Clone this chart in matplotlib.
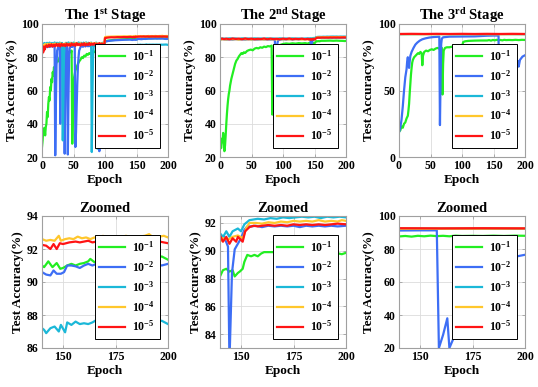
import matplotlib
matplotlib.use('Agg')
import matplotlib.pyplot as plt

plt.rcParams['font.family'] = 'Liberation Serif'
plt.rcParams['font.weight'] = 'bold'
plt.rcParams['mathtext.fontset'] = 'custom'
plt.rcParams['mathtext.rm'] = 'Liberation Serif:bold'
plt.rcParams['mathtext.bf'] = 'Liberation Serif:bold'
plt.rcParams['mathtext.it'] = 'Liberation Serif:bold:italic'
plt.rcParams['mathtext.default'] = 'rm'

# learning rates (legend)
labels = [r'10$^{-1}$', r'10$^{-2}$', r'10$^{-3}$', r'10$^{-4}$', r'10$^{-5}$']
colors = ['#22ee22', '#3d6ef5', '#1bb8d8', '#ffc72c', '#ff1414']

# ---- stage 1: (epoch, test accuracy) ----
s1_g = [(0, 26), (1, 30), (2, 37), (3, 34), (4, 37.5), (5, 33), (6, 38), (7, 40), (8, 47), (9, 44),
        (10, 52), (11, 56), (12, 54), (13, 62), (14, 60), (15, 67), (16, 65), (17, 71), (18, 69),
        (19, 74), (20, 72), (22, 76), (24, 78), (26, 77.5), (28, 80), (30, 79.5), (32, 81), (34, 80.5),
        (36, 82), (38, 81.5), (40, 83), (42, 82.5), (44, 83.5), (46, 83), (47, 84), (48, 28), (49, 45),
        (50, 60), (51, 68), (53, 72), (55, 74), (57, 76), (59, 77.5), (61, 78.5), (63, 80), (65, 79.5),
        (67, 81), (69, 80.5), (71, 82), (73, 81.5), (75, 82.5), (77, 82), (79, 83), (81, 82.6), (83, 83.5),
        (85, 83), (87, 84), (89, 83.6), (91, 84.3), (93, 84), (95, 84.5), (97, 84.2), (99, 84.6),
        (100, 89.6), (103, 89.9), (107, 90.1), (111, 90.3), (115, 90.4), (120, 90.6), (125, 90.7),
        (130, 90.8), (135, 90.9),
        (140, 91.0), (141, 90.9), (143, 91.25), (145, 90.9), (147, 91.15), (148.7, 90.8), (150, 90.85),
        (152, 91.0), (154, 91.1), (156, 91.0), (158, 91.1), (160, 91.15), (162, 91.25), (163, 91.4),
        (165, 91.2), (167, 91.3), (169, 91.45), (171, 91.4), (174, 91.45), (177, 91.4), (180, 91.5),
        (183, 91.4), (186, 91.5), (189, 91.45), (192, 91.5), (195, 91.45), (197, 91.55), (200, 91.35)]
s1_b = [(0, 84), (2, 86), (4, 85.5), (6, 86.5), (8, 86), (10, 86.8), (12, 86.2), (14, 87), (16, 86.4),
        (18, 86.9), (20, 86.5), (21, 21), (22, 50), (23, 75), (24, 84), (26, 86.5), (28, 86), (29, 40),
        (30, 80), (31, 86), (33, 86.8), (35, 86.3), (36, 22), (37, 60), (38, 84), (39, 86.5), (40, 86),
        (41, 21.5), (42, 55), (43, 80), (44, 85.5), (46, 86.8), (48, 86.2), (50, 86.9), (52, 86.5),
        (53, 26), (54, 35), (55, 50), (56, 64), (57, 74), (58, 80), (59, 84), (61, 86), (63, 86.8),
        (65, 86.3), (67, 87), (69, 86.5), (71, 87.1), (73, 86.6), (75, 87), (77, 86.5), (79, 87.2),
        (81, 86.7), (83, 87), (85, 86.6), (87, 87.2), (89, 86.8), (91, 23.5), (92, 45), (93, 70),
        (94, 82), (95, 86), (97, 87), (99, 86.8), (100, 89.3), (105, 89.8), (110, 90), (115, 90.2),
        (120, 90.3), (125, 90.4), (130, 90.5), (135, 90.55),
        (140, 90.6), (142, 90.45), (144, 90.4), (145.5, 90.7), (147, 90.5), (149, 90.5), (150.5, 90.6),
        (152, 91.0), (154, 91.0), (156, 90.95), (158, 90.85), (160, 91.0), (162, 91.1), (164, 91.0),
        (166, 91.1), (168, 91.15), (170, 91.2), (173, 91.15), (176, 91.2), (179, 91.25), (182, 91.2),
        (185, 91.25), (188, 91.2), (191, 91.25), (194, 91.1), (197, 91.0), (200, 91.1)]
s1_c = [(0, 86.5), (2, 88), (4, 88.6), (6, 87.8), (8, 88.7), (10, 88.1), (12, 88.8), (14, 88.2), (16, 88.6),
        (18, 88.0), (20, 88.9), (22, 88.3), (24, 88.7), (26, 88.1), (28, 88.8), (30, 88.4), (32, 88.6),
        (33, 30), (34, 60), (35, 82), (36, 87.5), (38, 88.7), (40, 88.2), (42, 88.9), (44, 88.3), (46, 88.7),
        (48, 88.1), (50, 88.8), (52, 88.4), (54, 88.6), (56, 88.2), (58, 88.9), (60, 88.4), (62, 88.7),
        (64, 88.1), (66, 88.8), (68, 88.3), (70, 88.9), (72, 88.4), (74, 88.7), (76, 88.2), (78, 88.8),
        (79, 23), (80, 55), (81, 80), (82, 86.5), (84, 88.3), (86, 88.8), (87, 88.4), (88, 25), (89, 35),
        (90, 55), (91, 72), (92, 82), (93, 86.5), (94, 88.1), (96, 88.7), (98, 88.3), (99, 88.6),
        (100, 86.3), (105, 86.6), (110, 86.8), (115, 87), (120, 87.1), (125, 87.15), (130, 87.2),
        (135, 87.25),
        (140, 87.2), (141, 87.1), (142, 86.9), (144, 87.2), (146, 87.3), (148, 87.0), (149, 87.4),
        (151, 86.95), (152, 87.55), (154, 87.4), (156, 87.6), (158, 87.45), (160, 87.5), (162, 87.45),
        (164, 87.55), (166, 87.7), (168, 87.5), (170, 87.6), (173, 87.55), (176, 87.6), (179, 87.55),
        (182, 87.6), (185, 87.55), (188, 87.6), (191, 87.55), (194, 87.6), (197, 87.65), (200, 87.45)]
s1_y = [(0, 86.5), (1, 87.5), (3, 87.0), (5, 88.0), (7, 87.3), (9, 88.1), (11, 87.4), (13, 88.2),
        (15, 87.5), (17, 88.0), (19, 87.3), (21, 88.3), (23, 87.6), (25, 88.1), (27, 87.4), (29, 88.4),
        (31, 87.7), (33, 88.0), (35, 87.5), (37, 88.3), (39, 87.8), (41, 88.1), (43, 87.6), (45, 88.4),
        (47, 87.8), (49, 88.2), (51, 87.7), (53, 88.5), (55, 87.9), (57, 88.2), (59, 87.7), (61, 88.4),
        (63, 87.9), (65, 88.1), (67, 87.8), (69, 88.5), (71, 88.0), (73, 88.2), (75, 87.8), (77, 88.6),
        (79, 88.0), (81, 88.3), (83, 87.9), (85, 88.5), (87, 88.1), (89, 88.2), (91, 87.8), (93, 88.4),
        (95, 88.1), (97, 88.3), (99, 88.2), (100, 92.1), (103, 92.3), (107, 92.35), (111, 92.4),
        (115, 92.45), (120, 92.5), (125, 92.5), (130, 92.55), (135, 92.55),
        (140, 92.6), (142, 92.5), (144, 92.55), (146, 92.5), (148, 92.8), (149, 92.5), (151, 92.6),
        (153, 92.65), (155, 92.6), (157, 92.75), (159, 92.65), (161, 92.7), (163, 92.6), (165, 92.7),
        (167, 92.65), (169, 92.8), (171, 92.7), (174, 92.75), (177, 92.7), (180, 92.8), (183, 92.7),
        (186, 92.75), (189, 92.8), (191, 92.9), (193, 92.7), (196, 92.75), (198, 92.8), (200, 92.7)]
s1_r = [(0, 82), (1, 85), (2, 83), (3, 86.5), (4, 84.5), (5, 86), (7, 87.2), (9, 86.2), (11, 87.6),
        (13, 86.5), (15, 87.8), (17, 86.4), (19, 87.6), (21, 86.6), (23, 88.0), (25, 86.8), (27, 87.9),
        (29, 86.5), (31, 88.1), (33, 86.9), (35, 87.8), (37, 86.7), (39, 88.2), (41, 87.0), (43, 87.9),
        (45, 86.8), (47, 88.3), (49, 87.2), (51, 88.0), (53, 86.9), (55, 88.4), (57, 87.3), (59, 87.9),
        (61, 87.0), (63, 88.2), (65, 87.3), (67, 88.4), (69, 87.1), (71, 88.1), (73, 87.4), (75, 88.5),
        (77, 87.3), (79, 88.2), (81, 87.5), (83, 88.4), (85, 87.3), (87, 88.1), (89, 87.5), (91, 88.5),
        (93, 87.4), (95, 88.2), (97, 87.6), (99, 88.0), (100, 91.5), (102, 91.7), (106, 91.9),
        (110, 92.0), (115, 91.95), (120, 92.1), (125, 92.05), (130, 92.15), (135, 92.1),
        (140, 92.25), (142, 92.2), (144, 92.0), (145.5, 92.3), (147, 92.0), (148.5, 92.35), (150, 92.3),
        (153, 92.4), (156, 92.45), (158, 92.4), (160, 92.45), (162, 92.5), (164, 92.4), (166, 92.45),
        (168, 92.5), (170, 92.4), (172, 92.45), (175, 92.5), (178, 92.45), (181, 92.5), (184, 92.45),
        (187, 92.5), (190, 92.45), (193, 92.5), (196, 92.45), (198, 92.4), (200, 92.35)]

# ---- stage 2 ----
s2_g = [(0, 25), (2, 25.5), (3, 31), (4, 29), (5, 34.5), (6, 30), (7, 23.5), (8, 27), (9, 33), (10, 40),
        (11, 46), (12, 51), (13, 55), (14, 58), (15, 60), (16, 63), (18, 67), (20, 70), (22, 73),
        (24, 76), (26, 78), (28, 79), (30, 80.5), (32, 81.5), (34, 82.5), (36, 82), (38, 83), (40, 82.6),
        (43, 83.8), (46, 84.3), (49, 84.6), (52, 84.2), (55, 85.2), (58, 85.6), (61, 85.3), (64, 86),
        (67, 85.7), (70, 86.4), (73, 86.1), (76, 86.7), (79, 86.5), (82, 87), (83, 45.5), (84, 70),
        (85, 80), (87, 83), (90, 85), (93, 86.5), (96, 87.5), (100, 88), (105, 88.3), (110, 88.1),
        (115, 88.4), (120, 88.2), (125, 88.5), (130, 88.3), (135, 88.5),
        (140, 88.15), (141.4, 88.6), (143, 88.7), (144.5, 88.5), (146, 88.6), (147, 88.15), (148.5, 88.4),
        (149.4, 88.5), (150.8, 88.7), (151.6, 89.2), (153, 89.7), (154.8, 89.6), (156.4, 89.7),
        (158, 89.6), (159.6, 89.8), (161, 89.9), (164, 89.9), (166.6, 89.9), (170, 89.95), (175, 90.0),
        (180, 89.9), (185, 90.0), (190, 89.9), (195, 89.85), (198, 89.75), (200, 89.85)]
s2_b = [(0, 90.7), (5, 90.9), (10, 90.6), (15, 90.8), (20, 90.6), (25, 90.9), (30, 90.7), (35, 90.8),
        (40, 90.6), (45, 90.9), (50, 90.7), (55, 90.8), (60, 90.6), (65, 90.9), (70, 90.7), (75, 90.8),
        (80, 90.6), (85, 90.8), (87, 90.5), (88, 82), (89, 74.5), (90, 84), (91, 88), (92, 90),
        (94, 90.6), (100, 90.8), (105, 90.7), (110, 90.9), (115, 90.7), (120, 90.9), (125, 90.8),
        (130, 91.0), (135, 90.9),
        (140, 91.1), (142, 91.0), (143.8, 90.3), (144.5, 82), (145.7, 88.4), (147, 90.1), (148.5, 90.5),
        (150, 90.9), (151.6, 91.5), (153, 91.75), (155, 91.75), (157, 91.8), (160, 91.7), (163, 91.8),
        (166, 91.75), (169, 91.8), (172, 91.75), (175, 91.8), (178, 91.7), (181, 91.8), (184, 91.75),
        (187, 91.8), (190, 91.75), (193, 91.8), (196, 91.75), (200, 91.8)]
s2_c = [(0, 91.0), (5, 91.3), (10, 91.1), (15, 91.4), (20, 91.2), (25, 91.3), (30, 91.0), (35, 91.4),
        (40, 91.2), (45, 91.3), (50, 91.1), (55, 91.4), (60, 91.2), (65, 91.3), (70, 91.1), (75, 91.4),
        (80, 91.2), (85, 91.3), (90, 91.1), (95, 91.4), (100, 91.2), (105, 91.3), (110, 91.1),
        (115, 91.4), (120, 91.2), (125, 91.3), (130, 91.1), (135, 91.3),
        (140, 91.25), (141.5, 91.0), (143, 91.4), (144.5, 91.0), (146, 91.4), (148.5, 91.6), (150, 91.4),
        (151.6, 91.9), (154, 92.2), (156, 92.25), (158, 92.3), (161, 92.25), (164, 92.35), (167, 92.3),
        (170, 92.4), (173, 92.35), (176, 92.4), (179, 92.45), (182, 92.4), (185, 92.45), (188, 92.35),
        (191, 92.45), (194, 92.4), (197, 92.45), (200, 92.4)]
s2_y = [(0, 90.6), (5, 90.9), (10, 90.7), (15, 91.0), (20, 90.8), (25, 90.9), (30, 90.6), (35, 91.0),
        (40, 90.8), (45, 90.9), (50, 90.7), (55, 91.0), (60, 90.8), (65, 90.9), (70, 90.7), (75, 91.0),
        (80, 90.8), (85, 90.9), (90, 90.7), (95, 91.0), (100, 90.8), (105, 90.9), (110, 90.7),
        (115, 91.0), (120, 90.8), (125, 90.9), (130, 90.7), (135, 90.9),
        (140, 90.65), (141.4, 90.9), (143.8, 90.8), (146, 91.0), (148.5, 91.1), (150.9, 90.9),
        (152.4, 91.6), (154, 92.0), (157, 92.0), (160, 91.95), (163, 92.05), (166, 92.0), (169, 92.1),
        (172, 92.05), (175, 92.15), (178, 92.1), (181, 92.15), (184, 92.1), (187, 92.2), (190, 92.1),
        (193, 92.15), (196, 92.1), (198, 92.2), (200, 92.15)]
s2_r = [(0, 90.8), (3, 91.3), (6, 90.9), (10, 91.2), (15, 90.8), (20, 91.3), (25, 91.0), (30, 91.2),
        (35, 90.8), (40, 91.3), (45, 90.9), (50, 91.2), (55, 90.8), (60, 91.1), (65, 90.9), (70, 91.3),
        (75, 90.8), (80, 91.2), (85, 90.9), (90, 91.1), (95, 90.8), (100, 91.2), (105, 90.9),
        (110, 91.3), (115, 90.8), (120, 91.1), (125, 90.9), (130, 91.2), (135, 90.8),
        (140, 91.1), (141.4, 90.65), (143, 91.0), (144.5, 90.5), (146, 90.9), (147.7, 90.65),
        (148.5, 91.0), (150.8, 90.65), (152, 91.4), (154, 91.7), (156, 91.8), (158, 91.75), (160, 91.8),
        (163, 91.85), (166, 91.8), (169, 91.85), (172, 91.8), (175, 91.9), (178, 91.85), (181, 91.9),
        (184, 91.85), (187, 91.9), (190, 91.85), (193, 91.9), (196, 91.95), (200, 91.9)]

# ---- stage 3 ----
s3_g = [(0, 19), (2, 20), (4, 23), (6, 22), (8, 25), (10, 26), (12, 29), (14, 31), (15, 35), (16, 40),
        (17, 48), (18, 55), (19, 62), (20, 67), (21, 71), (22, 73), (24, 75), (26, 76), (28, 77),
        (30, 78), (32, 77.5), (34, 79), (36, 78), (37, 69), (38, 76), (40, 79), (43, 80), (46, 79.5),
        (49, 80.5), (52, 81), (55, 80.5), (58, 81.5), (61, 82), (64, 81.5), (68, 82), (69, 47), (70, 70),
        (71, 80), (73, 82), (76, 82.5), (80, 82.5), (85, 83), (90, 83), (95, 83.2), (100, 83.3),
        (102, 86.5), (105, 87), (110, 87.3), (120, 87.5), (130, 87.6),
        (140, 87.6), (143, 87.9), (146, 87.5), (149, 88.0), (152, 87.7), (155, 88.1), (158, 87.8),
        (161, 88.0), (164, 87.7), (167, 88.1), (170, 87.9), (175, 88.0), (180, 87.9), (185, 88.1),
        (190, 87.9), (195, 88.1), (200, 88.0)]
s3_b = [(0, 18.5), (2, 22), (4, 28), (6, 38), (8, 50), (10, 60), (12, 66), (13, 72), (14, 75), (15, 70),
        (16, 67), (17, 72), (18, 76), (20, 79), (23, 82), (26, 84.5), (29, 86), (33, 87.5), (37, 88.5),
        (42, 89.2), (48, 89.8), (55, 90.2), (62, 90.4), (64, 90.5), (65, 24), (66, 60), (67, 85),
        (68, 89), (70, 90), (80, 90.5), (100, 90.6), (120, 90.7), (140, 91.2), (150, 91.3), (158, 91.3),
        (159, 20), (161, 28), (163, 38), (164, 20), (166, 26), (168, 32), (172, 40), (178, 50),
        (183, 60), (187, 67), (189, 72), (190, 68), (192, 73), (196, 75.5), (200, 76.5)]
s3_c = [(0, 92.3), (50, 92.4), (100, 92.3), (150, 92.4), (200, 92.3)]
s3_y = [(0, 92.4), (50, 92.3), (100, 92.4), (150, 92.3), (200, 92.4)]
s3_r = [(0, 92.5), (20, 92.6), (40, 92.5), (60, 92.6), (80, 92.5), (100, 92.6), (120, 92.5),
        (140, 92.6), (160, 92.5), (180, 92.6), (200, 92.5)]

stages = [[s1_g, s1_b, s1_c, s1_y, s1_r],
          [s2_g, s2_b, s2_c, s2_y, s2_r],
          [s3_g, s3_b, s3_c, s3_y, s3_r]]
titles = [r'The 1$^{\rm st}$ Stage', r'The 2$^{\rm nd}$ Stage', r'The 3$^{\rm rd}$ Stage']


def panel(ax, series, title, xlim, xticks, ylim, yticks):
    for pts, c, lab in zip(series, colors, labels):
        x = [p[0] for p in pts]
        y = [p[1] for p in pts]
        ax.plot(x, y, color=c, lw=1.6, label=lab)
    ax.set_xlim(xlim)
    ax.set_ylim(ylim)
    ax.set_xticks(xticks)
    ax.set_yticks(yticks)
    ax.grid(True, color='#dcdcdc', lw=0.6)
    ax.set_axisbelow(True)
    for s in ax.spines.values():
        s.set_color('#a0a0a0')
        s.set_linewidth(0.8)
    ax.tick_params(direction='in', length=2.5, width=0.6, color='#a0a0a0', top=True, right=True,
                   labelsize=8.5, pad=2.5, labelcolor='black')
    ax.set_title(title, fontsize=10.5, fontweight='bold', pad=3)
    ax.set_xlabel('Epoch', fontsize=9.5, fontweight='bold', labelpad=1)
    ax.set_ylabel('Test Accuracy(%)', fontsize=9.5, fontweight='bold', labelpad=2)
    leg = ax.legend(loc='lower right', bbox_to_anchor=(0.935, 0.07), fontsize=8.5, fancybox=False,
                    framealpha=1, edgecolor='black', handlelength=2.2, handletextpad=0.6,
                    labelspacing=0.45, borderpad=0.4, borderaxespad=0)
    leg.get_frame().set_linewidth(0.7)


fig = plt.figure(figsize=(5.38, 3.87), dpi=100)
lefts = [42 / 538, 220 / 538, 399 / 538]
w = 126 / 538
top_b, top_h = (387 - 157) / 387, 133 / 387
bot_b, bot_h = (387 - 348) / 387, 132 / 387

full_ylims = [(20, 100), (20, 100), (0, 100)]
full_yticks = [[20, 40, 60, 80, 100], [20, 40, 60, 80, 100], [0, 50, 100]]
zoom_ylims = [(86, 94), (83, 92.5), (20, 100)]
zoom_yticks = [[86, 88, 90, 92, 94], [84, 86, 88, 90, 92], [20, 40, 60, 80, 100]]

for i in range(3):
    ax = fig.add_axes([lefts[i], top_b, w, top_h])
    panel(ax, stages[i], titles[i], (0, 200), [0, 50, 100, 150, 200], full_ylims[i], full_yticks[i])
    ax = fig.add_axes([lefts[i], bot_b, w, bot_h])
    panel(ax, stages[i], 'Zoomed', (140, 200), [150, 175, 200], zoom_ylims[i], zoom_yticks[i])

fig.savefig('out.png', dpi=100)
